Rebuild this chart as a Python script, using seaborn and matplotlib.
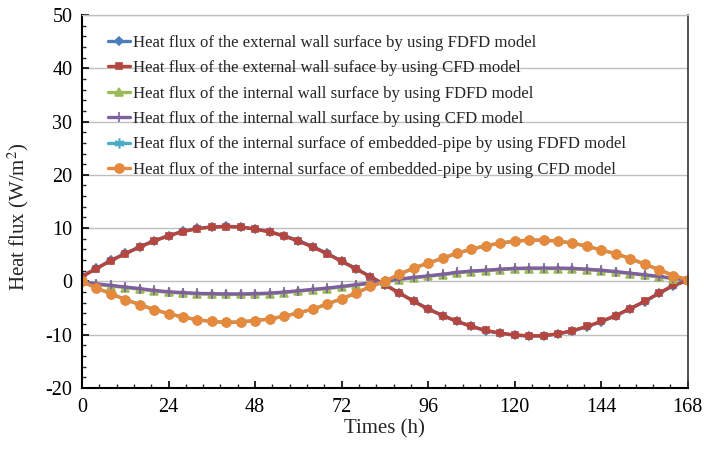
import numpy as np
import pandas as pd
import matplotlib
matplotlib.use("Agg")
import matplotlib.pyplot as plt
import seaborn as sns
from matplotlib.ticker import MultipleLocator

# Time axis (h)
hours = list(range(0, 169, 4))

ext_fdfd = [0.95, 2.45, 3.95, 5.25, 6.5, 7.65, 8.6, 9.4, 9.95, 10.25, 10.35, 10.25, 9.85, 9.35,
            8.55, 7.65, 6.5, 5.25, 3.8, 2.4, 0.9, -0.6, -2.15, -3.7, -5.15, -6.4, -7.5, -8.45,
            -9.25, -9.75, -10.1, -10.25, -10.25, -9.85, -9.3, -8.5, -7.55, -6.45, -5.15, -3.8,
            -2.25, -0.8, 0.2]
ext_cfd = [0.9, 2.4, 3.9, 5.2, 6.45, 7.6, 8.55, 9.35, 9.9, 10.2, 10.3, 10.2, 9.8, 9.3,
           8.5, 7.6, 6.45, 5.2, 3.75, 2.35, 0.85, -0.65, -2.2, -3.75, -5.2, -6.4, -7.5, -8.45,
           -9.2, -9.7, -10.05, -10.2, -10.2, -9.8, -9.25, -8.45, -7.5, -6.4, -5.1, -3.75,
           -2.2, -0.75, 0.2]
int_fdfd = [0.0, -0.55, -0.85, -1.15, -1.45, -1.8, -2.05, -2.2, -2.35, -2.4, -2.45, -2.45, -2.4,
            -2.3, -2.1, -1.85, -1.6, -1.35, -1.05, -0.7, -0.4, -0.1, 0.35, 0.65, 0.95, 1.25,
            1.6, 1.85, 2.0, 2.2, 2.35, 2.4, 2.4, 2.4, 2.35, 2.2, 2.0, 1.75, 1.45, 1.15, 0.85,
            0.5, 0.25]
int_cfd = [0.0, -0.45, -0.75, -1.05, -1.35, -1.7, -1.95, -2.1, -2.25, -2.3, -2.35, -2.35, -2.3,
           -2.2, -2.0, -1.75, -1.5, -1.25, -0.95, -0.6, -0.3, 0.0, 0.45, 0.75, 1.05, 1.35,
           1.7, 1.95, 2.1, 2.3, 2.45, 2.5, 2.5, 2.5, 2.45, 2.3, 2.1, 1.85, 1.55, 1.25, 0.95,
           0.6, 0.3]
pipe_fdfd = [0.0, -1.25, -2.3, -3.4, -4.35, -5.3, -6.05, -6.7, -7.2, -7.5, -7.7, -7.6, -7.35,
             -7.05, -6.55, -5.9, -5.2, -4.25, -3.25, -2.2, -0.95, 0.0, 1.35, 2.5, 3.45, 4.35,
             5.3, 6.05, 6.7, 7.2, 7.55, 7.75, 7.75, 7.55, 7.2, 6.6, 5.9, 5.2, 4.3, 3.25, 2.2,
             1.1, 0.3]
pipe_cfd = [0.0, -1.25, -2.3, -3.4, -4.35, -5.3, -6.05, -6.7, -7.2, -7.5, -7.7, -7.6, -7.35,
            -7.05, -6.55, -5.9, -5.2, -4.25, -3.25, -2.2, -0.95, 0.0, 1.35, 2.5, 3.45, 4.35,
            5.3, 6.05, 6.7, 7.2, 7.55, 7.75, 7.75, 7.55, 7.2, 6.6, 5.9, 5.2, 4.3, 3.25, 2.2,
            1.1, 0.3]

labels = [
    "Heat flux of the external wall surface by using FDFD model",
    "Heat flux of the external wall suface by using CFD model",
    "Heat flux of the internal wall surface by using FDFD model",
    "Heat flux of the internal wall surface by using CFD model",
    "Heat flux of the internal surface of embedded-pipe by using FDFD model",
    "Heat flux of the internal surface of embedded-pipe by using CFD model",
]
series = [ext_fdfd, ext_cfd, int_fdfd, int_cfd, pipe_fdfd, pipe_cfd]
colors = ["#4A7EBB", "#B5463F", "#9BBB59", "#7E5FA0", "#4BACC6", "#E58A3C"]
markers = ["D", "s", "^", "+", (6, 2, 0), "o"]
msizes = [4, 4.5, 5.5, 7, 7, 6.5]

sns.set_theme(style="white")
plt.rcParams["font.family"] = ["Liberation Serif", "DejaVu Serif"]
plt.rcParams["mathtext.fontset"] = "stix"
plt.rcParams["axes.unicode_minus"] = False

fig = plt.figure(figsize=(7.04, 4.54), dpi=100)
ax = fig.add_axes([0.1165, 0.1454, 0.8605, 0.8216])

for vals, lab, col, mk, ms in zip(series, labels, colors, markers, msizes):
    df = pd.DataFrame({"t": hours, "q": vals})
    sns.lineplot(data=df, x="t", y="q", ax=ax, color=col, marker=mk, markersize=ms,
                 linewidth=2.4, label=lab, markeredgecolor=col, markeredgewidth=1.2)

ax.set_xlim(0, 168)
ax.set_ylim(-20, 50)
ax.xaxis.set_major_locator(MultipleLocator(24))
ax.xaxis.set_minor_locator(MultipleLocator(4.8))
ax.yaxis.set_major_locator(MultipleLocator(10))
ax.yaxis.set_minor_locator(MultipleLocator(2))
ax.tick_params(axis="both", which="major", direction="in", length=5, width=1.2,
               labelsize=14.5, colors="black", pad=7)
ax.tick_params(axis="both", which="minor", direction="in", length=3, width=1.0)
ax.tick_params(axis="x", which="both", bottom=True, top=False)
ax.tick_params(axis="y", which="both", left=True, right=False)
ax.grid(axis="y", which="major", color="#BFBFBF", linewidth=1.0)
ax.set_axisbelow(True)

for side in ["left", "bottom"]:
    ax.spines[side].set_color("black")
    ax.spines[side].set_linewidth(1.5)
ax.spines["right"].set_color("#333333")
ax.spines["right"].set_linewidth(1.2)
ax.spines["top"].set_color("#BFBFBF")
ax.spines["top"].set_linewidth(1.0)

ax.set_xlabel("Times (h)", fontsize=15, labelpad=2)
ax.set_ylabel("Heat flux (W/m$^2$)", fontsize=15, labelpad=4)
ax.yaxis.set_label_coords(-0.085, 0.46)

leg = ax.legend(loc="upper left", bbox_to_anchor=(0.043, 0.947), frameon=False,
                fontsize=12.1, handlelength=1.33, handletextpad=0.15, labelspacing=0.56,
                borderaxespad=0, borderpad=0)

fig.savefig("out.png", dpi=100)
